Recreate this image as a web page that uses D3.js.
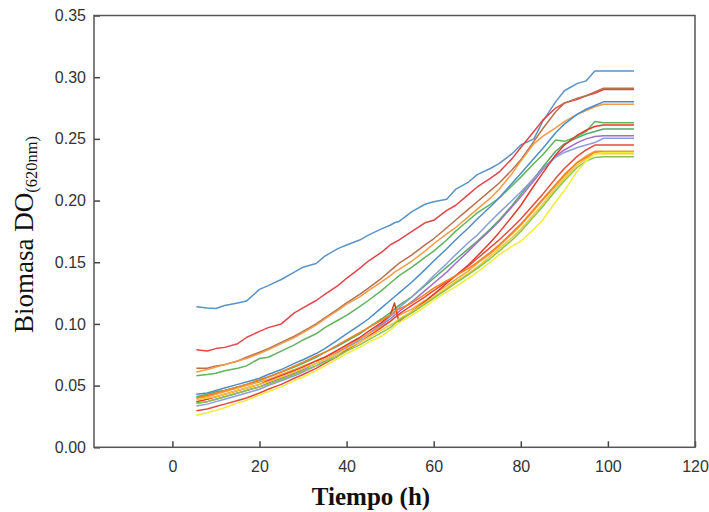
<!DOCTYPE html>
<html>
<head>
<meta charset="utf-8">
<script src="https://cdn.jsdelivr.net/npm/d3@7/dist/d3.min.js"></script>
<style>
  html, body { margin: 0; padding: 0; background: #fff; }
  svg { display: block; }
</style>
</head>
<body>
<svg id="chart" width="709" height="512"></svg>
<script>
// ---- Data ----
const hours = [5.5, 8, 10, 12, 15, 17, 20, 22, 25, 28, 30, 33, 35, 38, 40, 43, 45, 48, 50, 51, 52, 55, 58, 60, 63, 65, 68, 70, 73, 75, 78, 80, 83, 85, 88, 90, 93, 95, 97, 99, 106];

const s1  = [0.114,0.113,0.1125,0.115,0.117,0.1185,0.128,0.131,0.136,0.142,0.146,0.149,0.155,0.161,0.164,0.168,0.172,0.177,0.180,0.182,0.183,0.191,0.197,0.199,0.201,0.209,0.215,0.221,0.226,0.230,0.238,0.245,0.250,0.264,0.280,0.289,0.295,0.297,0.305,0.305,0.305];
const s2  = [0.079,0.078,0.080,0.081,0.084,0.089,0.094,0.097,0.100,0.109,0.113,0.119,0.124,0.131,0.137,0.145,0.151,0.158,0.164,0.166,0.168,0.175,0.182,0.184,0.192,0.196,0.205,0.211,0.218,0.223,0.234,0.243,0.256,0.265,0.275,0.279,0.282,0.285,0.287,0.290,0.290];
const s3  = [0.064,0.064,0.066,0.067,0.070,0.073,0.077,0.080,0.085,0.090,0.094,0.100,0.105,0.112,0.117,0.124,0.129,0.137,0.143,0.146,0.149,0.156,0.164,0.169,0.178,0.184,0.193,0.199,0.208,0.214,0.225,0.233,0.248,0.258,0.272,0.279,0.283,0.285,0.288,0.291,0.291];
const s4  = [0.061,0.063,0.065,0.067,0.070,0.072,0.076,0.079,0.084,0.089,0.093,0.099,0.104,0.111,0.116,0.122,0.127,0.134,0.139,0.142,0.144,0.151,0.159,0.165,0.173,0.178,0.187,0.193,0.202,0.209,0.222,0.232,0.246,0.252,0.259,0.264,0.270,0.273,0.276,0.278,0.278];
const s5  = [0.058,0.059,0.060,0.062,0.064,0.066,0.072,0.073,0.078,0.083,0.087,0.092,0.097,0.103,0.107,0.114,0.119,0.127,0.133,0.136,0.139,0.146,0.154,0.159,0.168,0.175,0.184,0.190,0.197,0.202,0.212,0.219,0.230,0.237,0.249,0.248,0.252,0.256,0.264,0.263,0.263];
const s6  = [0.043,0.044,0.046,0.048,0.051,0.053,0.056,0.059,0.063,0.068,0.071,0.076,0.080,0.087,0.092,0.099,0.104,0.113,0.119,0.122,0.125,0.134,0.144,0.151,0.161,0.168,0.178,0.185,0.195,0.202,0.214,0.222,0.234,0.242,0.255,0.262,0.270,0.274,0.277,0.280,0.280];
const s7  = [0.041,0.043,0.045,0.046,0.049,0.051,0.054,0.057,0.061,0.065,0.068,0.073,0.077,0.082,0.086,0.092,0.097,0.104,0.109,0.112,0.115,0.122,0.131,0.137,0.146,0.152,0.161,0.167,0.177,0.184,0.196,0.205,0.218,0.227,0.240,0.246,0.251,0.254,0.256,0.258,0.258];
const s8  = [0.0356,0.037,0.039,0.041,0.044,0.046,0.049,0.052,0.056,0.060,0.063,0.068,0.071,0.077,0.081,0.087,0.092,0.099,0.104,0.107,0.110,0.118,0.127,0.133,0.142,0.149,0.159,0.166,0.176,0.183,0.195,0.203,0.216,0.225,0.236,0.241,0.247,0.250,0.252,0.2525,0.2525];
const s9  = [0.0335,0.035,0.037,0.039,0.042,0.044,0.047,0.050,0.054,0.058,0.061,0.066,0.070,0.076,0.080,0.087,0.092,0.100,0.106,0.109,0.113,0.122,0.132,0.139,0.149,0.156,0.166,0.172,0.183,0.190,0.200,0.207,0.218,0.226,0.235,0.239,0.243,0.245,0.247,0.2505,0.2505];
const s10 = [0.0397,0.041,0.043,0.045,0.048,0.050,0.053,0.055,0.059,0.063,0.066,0.070,0.073,0.078,0.082,0.088,0.092,0.098,0.102,0.105,0.107,0.112,0.119,0.124,0.131,0.136,0.143,0.149,0.157,0.163,0.173,0.180,0.192,0.200,0.212,0.220,0.231,0.236,0.240,0.240,0.240];
const s11 = [0.037,0.039,0.041,0.043,0.046,0.048,0.051,0.054,0.058,0.062,0.065,0.070,0.073,0.079,0.083,0.089,0.094,0.101,0.107,0.117,0.102,0.110,0.118,0.124,0.133,0.139,0.148,0.155,0.166,0.174,0.187,0.196,0.212,0.222,0.237,0.245,0.253,0.257,0.260,0.2612,0.2612];
const s13 = [0.0297,0.031,0.033,0.035,0.038,0.040,0.044,0.047,0.051,0.056,0.059,0.064,0.068,0.074,0.079,0.085,0.090,0.097,0.102,0.105,0.108,0.115,0.122,0.127,0.134,0.139,0.147,0.153,0.162,0.168,0.178,0.185,0.197,0.205,0.218,0.226,0.236,0.241,0.245,0.245,0.245];
const s14 = [0.0383,0.040,0.041,0.043,0.046,0.048,0.051,0.053,0.057,0.061,0.064,0.068,0.071,0.076,0.080,0.085,0.089,0.095,0.099,0.101,0.104,0.110,0.117,0.122,0.129,0.134,0.141,0.146,0.155,0.161,0.170,0.177,0.189,0.197,0.210,0.218,0.229,0.234,0.238,0.238,0.238];
const s15 = [0.040,0.042,0.044,0.046,0.049,0.051,0.055,0.057,0.061,0.066,0.069,0.074,0.077,0.083,0.087,0.093,0.097,0.103,0.107,0.110,0.112,0.117,0.124,0.129,0.135,0.139,0.145,0.150,0.158,0.164,0.174,0.181,0.193,0.201,0.213,0.221,0.231,0.235,0.239,0.2395,0.2395];
const s16 = [0.036,0.037,0.039,0.041,0.044,0.046,0.049,0.051,0.055,0.059,0.062,0.066,0.069,0.074,0.078,0.083,0.087,0.093,0.097,0.100,0.103,0.109,0.116,0.121,0.128,0.133,0.140,0.145,0.153,0.159,0.168,0.175,0.187,0.195,0.208,0.216,0.227,0.232,0.235,0.2355,0.2355];
const s12 = [0.026,0.028,0.030,0.032,0.036,0.038,0.0425,0.045,0.049,0.054,0.057,0.062,0.066,0.072,0.076,0.081,0.085,0.090,0.095,0.098,0.101,0.107,0.114,0.119,0.126,0.130,0.137,0.142,0.150,0.156,0.163,0.167,0.177,0.184,0.199,0.208,0.224,0.232,0.238,0.239,0.239];

const seriesList = [s1, s2, s3, s4, s5, s6, s7, s8, s9, s10, s11, s13, s14, s15, s16, s12];
const seriesColors = ["#5b93c9", "#e2454a", "#b8704f", "#f59a45", "#5fb55b", "#4f8dc8", "#55aa66", "#a070c4",
                      "#8a9ed8", "#f7a23a", "#e23b2e", "#e8483c", "#f5c83a", "#f5821f", "#8bc34a", "#f4ec3a"];

const xTicks = [0, 20, 40, 60, 80, 100, 120];
const yTicks = [0.00, 0.05, 0.10, 0.15, 0.20, 0.25, 0.30, 0.35];

// ---- Layout ----
const svg = d3.select("#chart");
const L = 94, R = 695, T = 15.5, B = 447.3;

const x = d3.scaleLinear().domain([-18, 120]).range([L, R]);
const y = d3.scaleLinear().domain([0, 0.35]).range([B, T]);

// Lines
const line = d3.line()
  .x((d, i) => x(hours[i]))
  .y(d => y(d));

svg.append("g")
  .selectAll("path")
  .data(seriesList)
  .join("path")
  .attr("d", d => line(d))
  .attr("fill", "none")
  .attr("stroke", (d, i) => seriesColors[i])
  .attr("stroke-width", 1.5)
  .attr("stroke-linejoin", "round");

// Axes
const tickFont = "'Liberation Sans', Arial, sans-serif";

const yAxis = svg.append("g")
  .attr("transform", `translate(${L},0)`)
  .call(d3.axisLeft(y).tickValues(yTicks).tickFormat(d3.format(".2f")).tickSize(-6).tickPadding(8));
const xAxis = svg.append("g")
  .attr("transform", `translate(0,${B})`)
  .call(d3.axisBottom(x).tickValues(xTicks).tickFormat(d3.format("d")).tickSize(-6).tickPadding(13));

[yAxis, xAxis].forEach(g => {
  g.select(".domain").remove();
  g.selectAll(".tick line").attr("stroke", "#444").attr("stroke-width", 1.5);
  g.selectAll(".tick text")
    .attr("fill", "#333")
    .style("font-family", tickFont)
    .style("font-size", "16px");
});

// Frame
svg.append("rect")
  .attr("x", L).attr("y", T)
  .attr("width", R - L).attr("height", B - T)
  .attr("fill", "none")
  .attr("stroke", "#555")
  .attr("stroke-width", 1.5);

// Axis titles
const serif = "'Liberation Serif', 'Times New Roman', serif";
const yTitle = svg.append("text")
  .attr("transform", "translate(33,333) rotate(-90)")
  .attr("text-anchor", "start")
  .style("font-family", serif)
  .style("font-size", "27px")
  .attr("fill", "#111");
yTitle.append("tspan").text("Biomasa DO");
yTitle.append("tspan").attr("dy", 4).style("font-size", "16.5px").text("(620nm)");

svg.append("text")
  .attr("x", 371).attr("y", 505)
  .attr("text-anchor", "middle")
  .style("font-family", serif)
  .style("font-size", "25px")
  .style("font-weight", "bold")
  .attr("fill", "#111")
  .text("Tiempo (h)");
</script>
</body>
</html>
